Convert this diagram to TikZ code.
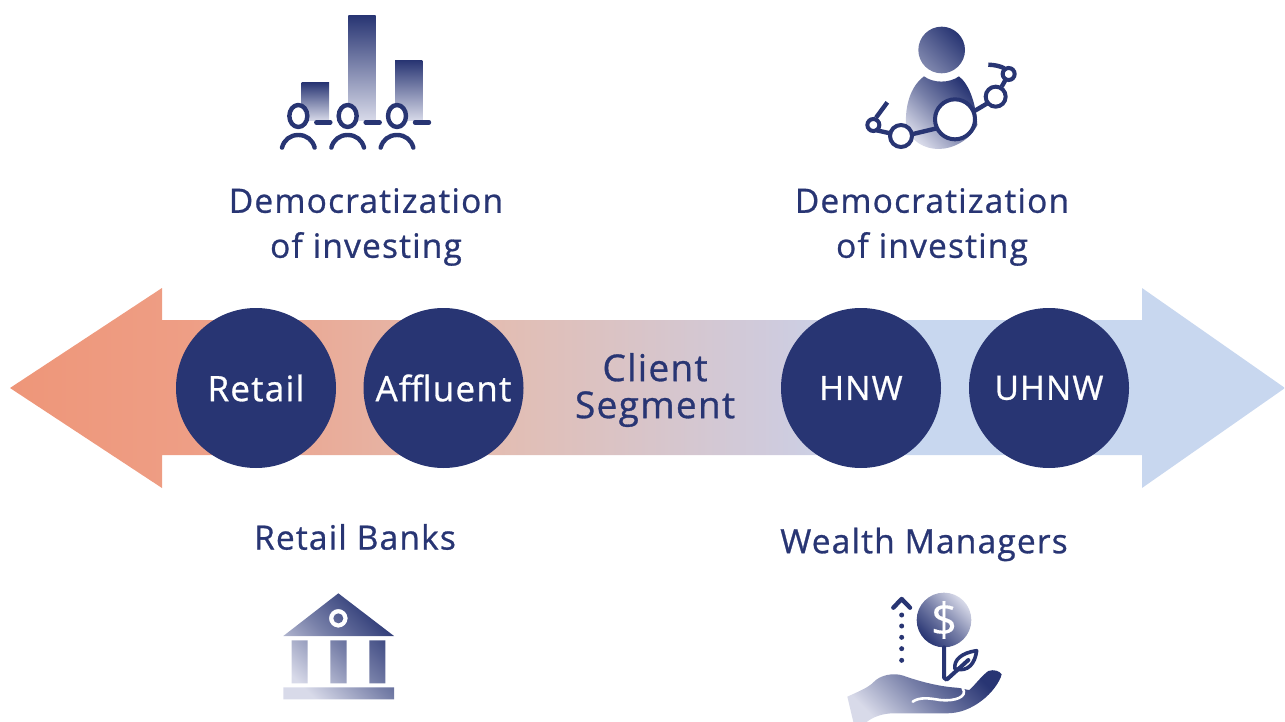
\documentclass[tikz,border=0pt]{standalone}
\usepackage{fontspec}
\setmainfont{Open Sans}[LetterSpace=3.5,FakeBold=0.8]
\newfontfamily\plainsans{Open Sans}[FakeBold=0.2]
\definecolor{navy}{HTML}{283573}
\definecolor{pale}{HTML}{D8DAE9}
\definecolor{sal}{HTML}{EE9679}
\definecolor{sky}{HTML}{C8D7EF}
\definecolor{stopa}{HTML}{EE9E85}
\definecolor{stopb}{HTML}{E3BDB2}
\definecolor{stopc}{HTML}{CFCBDD}
\pgfdeclarehorizontalshading{arrowgrad}{100bp}{color(0bp)=(sal); color(25bp)=(sal); color(32bp)=(stopa); color(44bp)=(stopb); color(55bp)=(stopc); color(59bp)=(sky); color(100bp)=(sky)}
\tikzset{
  x=1pt,y=-1pt,
  label text/.style={text=navy,align=center,inner sep=0pt,font=\fontsize{33.5}{45}\selectfont},
  client/.style={circle,fill=navy,minimum size=160pt,inner sep=0pt,text=white,font=\fontsize{#1}{36}\selectfont},
  icon/.style={shift={#1},scale=1/3},
  grad down/.style={top color=navy,bottom color=pale},
  grad ur/.style={shade,bottom color=pale,top color=navy,middle color=navy!55!pale,shading angle=-45},
  line icon/.style={draw=navy,line width=4.4pt,line cap=round,line join=round},
  ring/.style={draw=navy,fill=white,line width=4pt},
}
\begin{document}
\begin{tikzpicture}
\useasboundingbox (0,0) rectangle (1285,722);
% main arrow
\shade[shading=arrowgrad] (10,388) -- (162,288) -- (162,320) -- (1142,320) -- (1142,288) -- (1285,388) -- (1142,488) -- (1142,455) -- (162,455) -- (162,488) -- cycle;
\node[client=35] (retail) at (256,388) {Retail};
\node[client=35] (affluent) at (443.5,388) {Affluent};
\node[client=33.5] (hnw) at (861,388) {HNW};
\node[client=33.5] (uhnw) at (1049,388) {UHNW};
\node[label text,font=\fontsize{37}{37}\selectfont] (segment) at (655,390) {Client\\Segment};
\node[label text] (demo1) at (366,227) {Democratization\\of investing};
\node[label text] (demo2) at (932,227) {Democratization\\of investing};
\node[label text] (banks) at (355,537) {Retail Banks};
\node[label text] (wealth) at (924,544.5) {Wealth Managers};
% icon 1: bars and people
\begin{scope}[icon={(260,0)}]
  \shade[grad down] (125,248) rectangle (207,362);
  \shade[grad down] (265,46) rectangle (347,362);
  \shade[grad down] (405,181) rectangle (487,362);
  \foreach \d in {0,148,296}{
    \begin{scope}[xshift=\d*1pt]
      \draw[line icon,fill=white] (115,348) ellipse [x radius=27,y radius=33];
      \draw[line icon] (169,367) -- (211,367);
      \draw[line icon] (66,443) .. controls (72,420) and (90,405) .. (115,405) .. controls (140,405) and (158,420) .. (164,443);
    \end{scope}
  }
\end{scope}
% icon 2: investor
\begin{scope}[icon={(850,15)}]
  \shade[bottom color=navy!50!pale,top color=navy,shading angle=-45] (275,105) circle (70);
  \shade[grad ur] (168,330) .. controls (165,275) and (180,215) .. (222,184) .. controls (250,205) and (298,205) .. (327,184) .. controls (360,210) and (378,270) .. (382,330) .. controls (360,375) and (310,402) .. (265,402) .. controls (225,402) and (180,380) .. (168,330) -- cycle;
  \draw[line icon,line cap=butt] (80,346) -- (125,356);
  \draw[line icon,line cap=butt] (185,358) -- (260,340);
  \draw[line icon,line cap=butt] (370,290) -- (412,265);
  \draw[line icon,line cap=butt] (455,215) -- (468,192);
  \draw[line icon,line cap=butt] (78,308) -- (112,262);
  \draw[line icon,line cap=butt] (463,160) .. controls (450,153) and (435,150) .. (415,149);
  \draw[ring] (315,313) circle (60);
  \draw[ring] (153,363) circle (33);
  \draw[ring] (437,245) circle (30);
  \draw[ring] (476,177) circle (18);
  \draw[ring] (70,330) circle (18);
\end{scope}
% icon 3: bank
\begin{scope}[icon={(270,585)}]
  \shade[even odd rule,grad ur] (205,25) -- (372,153) -- (40,153) -- cycle (205,100) circle (28) (205,100) circle (15)
    (65,166) rectangle (113,295) (181,166) rectangle (230,295) (298,166) rectangle (346,295)
    (40,307) rectangle (372,343);
\end{scope}
% icon 4: hand, coin, plant
\begin{scope}[icon={(840,585)}]
  \shade[bottom color=navy,top color=pale,middle color=navy!55!pale,shading angle=-45] (312,105) circle (82);
  \node[text=white,inner sep=0pt,font=\plainsans\fontsize{46}{46}\selectfont] (dollar) at (312,105) {\$};
  \draw[navy,line width=4pt,line cap=round,line join=round] (312,187) -- (312,278) -- (320,284) -- (385,225);
  \draw[navy,line width=3.6pt,line join=round] (345,252) .. controls (340,225) and (365,203) .. (410,197) .. controls (405,235) and (385,262) .. (345,252) -- cycle;
  \draw[line icon] (160,68) -- (185,42) -- (210,68);
  \foreach \yy in {90,123,157,191,226} \fill[navy] (185,\yy) circle (7.5);
  \shade[grad ur] (22,335) .. controls (50,322) and (85,308) .. (100,292) .. controls (120,270) and (160,262) .. (190,272) .. controls (240,290) and (300,305) .. (350,308) .. controls (370,310) and (380,315) .. (388,315) .. controls (405,300) and (425,272) .. (445,258) .. controls (460,252) and (480,258) .. (485,268) .. controls (480,290) and (455,325) .. (425,347) .. controls (395,370) and (360,385) .. (320,385) -- (160,385) .. controls (130,385) and (100,395) .. (80,411) -- (40,411) -- cycle;
  \draw[white,line width=2.6pt,line cap=round] (218,350) .. controls (240,335) and (270,340) .. (300,345) .. controls (345,350) and (385,335) .. (368,310);
\end{scope}
\end{tikzpicture}
\end{document}
